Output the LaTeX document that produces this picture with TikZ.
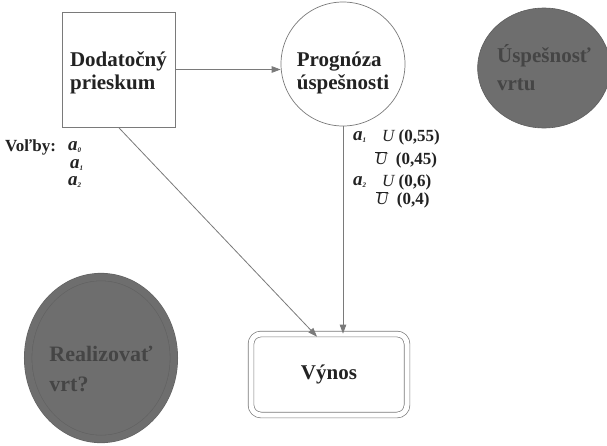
\documentclass[tikz,border=0pt]{standalone}
\usepackage{fontspec}
\setmainfont{Liberation Serif}[BoldFont={Liberation Serif Bold}, ItalicFont={Liberation Serif Italic}, BoldItalicFont={Liberation Serif Bold Italic}]
\usetikzlibrary{shapes.geometric,arrows.meta}
\definecolor{linegray}{HTML}{7A7A7A}
\definecolor{darkfill}{HTML}{6E6E6E}
\definecolor{darktext}{HTML}{454545}
\definecolor{ink}{HTML}{222222}
\begin{document}
\begin{tikzpicture}[x=1pt,y=-1pt,
  big/.style={font=\bfseries\fontsize{21}{23}\selectfont, text=ink, align=left, inner sep=0pt},
  rectbox/.style={big, draw=linegray, line width=0.7pt, minimum width=113pt, minimum height=115pt},
  circnode/.style={big, circle, draw=linegray, line width=0.7pt, minimum size=124pt},
  darkcirc/.style={big, ellipse, fill=darkfill, draw=darkfill!85!black, line width=0.6pt, text=darktext},
  vynbox/.style={big, draw=linegray, line width=0.7pt, double=white, double distance=5pt, rounded corners=10pt, minimum width=156pt, minimum height=81pt},
  arr/.style={draw=linegray, line width=0.8pt, -{Triangle[length=9pt,width=6.5pt]}},
  note/.style={font=\bfseries\fontsize{17}{19}\selectfont, text=ink, inner sep=0pt, anchor=west, text height=11pt, text depth=2pt},
  avar/.style={font=\bfseries\itshape\fontsize{19}{20}\selectfont, text=ink, inner sep=0pt, anchor=west, text height=8pt, text depth=2pt}
]
\useasboundingbox (0,0) rectangle (607,445);

% nodes
\node[rectbox] (dp) at (118.5,69.5) {\rule{0pt}{21pt}Dodatočný\\prieskum};
\node[circnode] (pu) at (343,64) {\rule{0pt}{33pt}Prognóza\\úspešnosti};
\node[darkcirc, minimum width=118pt, minimum height=120pt, font=\bfseries\fontsize{21}{28}\selectfont] (uv) at (544,68) {\rule{0pt}{18pt}Úspešnosť\\vrtu};
\node[darkcirc, double=darkfill, double distance=7pt, draw=black!62, line width=0.6pt,
      minimum width=143pt, minimum height=162pt, font=\bfseries\fontsize{22}{30}\selectfont] (rv) at (101,358) {\rule{0pt}{38pt}Realizovať\\vrt?};
\node[vynbox] (vy) at (329,374.5) {Výnos};

% connectors
\draw[arr] (dp.east) -- (dp.east -| pu.west);
\draw[arr] (pu.south) -- (pu.south |- vy.north);
\draw[arr] (dp.south) -- ([xshift=-12pt,yshift=-3pt]vy.north);

% choices
\node[note] (volby) at (5,147) {Voľby:};
\node[avar] (a0) at (68,147) {a\textsubscript{\fontsize{7}{8}\selectfont 0}};
\node[avar] (a1l) at (70,165) {a\textsubscript{\fontsize{7}{8}\selectfont 1}};
\node[avar] (a2l) at (68,182) {a\textsubscript{\fontsize{7}{8}\selectfont 2}};

% probabilities
\node[avar] (pa1) at (353,137) {a\textsubscript{\fontsize{7}{8}\selectfont 1}};
\node[note] (p1) at (382,137) {\mdseries\itshape U\upshape\bfseries\ (0,55)};
\node[note] (p2) at (375,160) {$\overline{\hbox{\mdseries\itshape U}}$\ \ (0,45)};
\node[avar] (pa2) at (353,182) {a\textsubscript{\fontsize{7}{8}\selectfont 2}};
\node[note] (p3) at (382,182) {\mdseries\itshape U\upshape\bfseries\ (0,6)};
\node[note] (p4) at (376,200) {$\overline{\hbox{\mdseries\itshape U}}$\ \ (0,4)};
\end{tikzpicture}
\end{document}
